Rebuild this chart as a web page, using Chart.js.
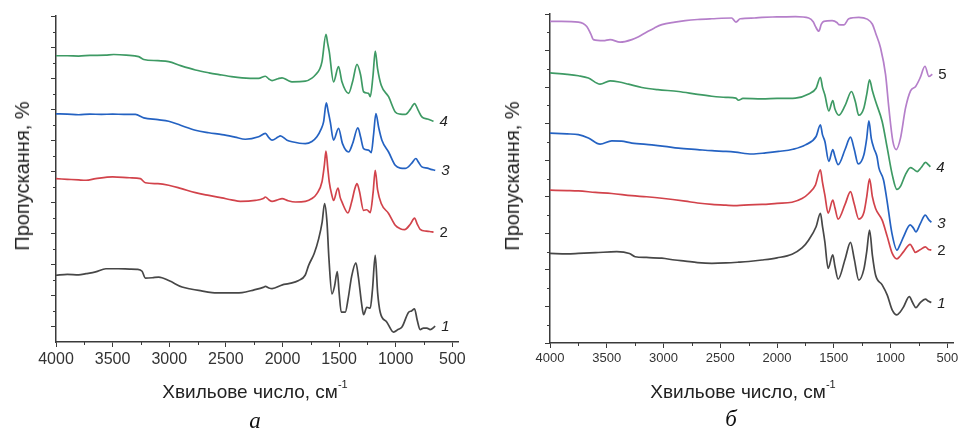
<!DOCTYPE html>
<html>
<head>
<meta charset="utf-8">
<script src="https://cdn.jsdelivr.net/npm/chart.js@4/dist/chart.umd.min.js"></script>
<style>
  html, body { margin:0; padding:0; background:#fff; }
  #wrap { position:relative; width:959px; height:430px; overflow:hidden; background:#fff; }
  canvas { position:absolute; top:0; }
  .t { position:absolute; white-space:nowrap; line-height:1; color:#222; font-family:"Liberation Sans", Arial, sans-serif; }
  .xt { font-size:19px; transform:translate(-50%,-50%); }
  .yt { font-size:20px; transform:translate(-50%,-50%) rotate(-90deg); }
  .xt sup { font-size:11px; position:relative; top:-3px; vertical-align:top; }
  .pl { font-family:"Liberation Serif", "Times New Roman", serif; font-style:italic; font-size:23px; transform:translate(-50%,-50%); color:#111; }
</style>
</head>
<body>
<div id="wrap">
  <canvas id="ca" width="480" height="430" style="left:0"></canvas>
  <canvas id="cb" width="479" height="430" style="left:480px"></canvas>
  <div class="t yt" style="left:22px;top:176px">Пропускання, %</div>
  <div class="t xt" style="left:255px;top:391px">Хвильове число, см<sup>-1</sup></div>
  <div class="t pl" style="left:255px;top:420px">а</div>
  <div class="t yt" style="left:512px;top:176px">Пропускання, %</div>
  <div class="t xt" style="left:743px;top:391px">Хвильове число, см<sup>-1</sup></div>
  <div class="t pl" style="left:731px;top:418px">б</div>
</div>
<script>
// ---------- DATA (wavenumber cm-1, transmittance in offset units) ----------
const X_TICKS = [4000, 3500, 3000, 2500, 2000, 1500, 1000, 500];
const X_MINOR = [3750, 3250, 2750, 2250, 1750, 1250, 750];
const A_Y_TICKS = [0,1,2,3,4,5,6,7,8,9,10];
const A_Y_MINOR = [-0.5,0.5,1.5,2.5,3.5,4.5,5.5,6.5,7.5,8.5,9.5];
const B_Y_TICKS = [0,1,2,3,4,5,6,7,8,9];
const B_Y_MINOR = [0.5,1.5,2.5,3.5,4.5,5.5,6.5,7.5,8.5];
const A_LABELS = ['1','2','3','4'];
const B_LABELS = ['1','2','3','4','5'];

// panel а
const a1 = [[4000,1.65],[3900,1.68],[3800,1.66],[3735,1.70],[3650,1.76],[3559,1.86],[3450,1.86],[3350,1.85],[3284,1.84],[3240,1.78],[3211,1.56],[3150,1.57],[3093,1.59],[3000,1.47],[2887,1.27],[2800,1.20],[2740,1.16],[2622,1.09],[2500,1.08],[2357,1.09],[2250,1.18],[2170,1.26],[2151,1.29],[2120,1.24],[2092,1.22],[2000,1.34],[1945,1.38],[1857,1.48],[1800,1.65],[1769,1.97],[1720,2.35],[1680,2.83],[1650,3.35],[1628,3.96],[1607,3.36],[1590,2.2],[1563,1.05],[1540,1.3],[1516,1.77],[1500,1.1],[1481,0.46],[1446,0.46],[1420,0.9],[1390,1.6],[1352,2.05],[1330,1.6],[1300,0.7],[1284,0.38],[1255,0.62],[1225,0.59],[1205,1.2],[1181,2.29],[1160,1.1],[1137,0.46],[1078,0.14],[1019,-0.18],[980,-0.1],[945,-0.02],[886,0.46],[860,0.5],[834,0.57],[810,0.2],[784,-0.10],[755,-0.05],[725,-0.05],[696,-0.10],[651,0.01]];
const a2 = [[4000,4.76],[3900,4.74],[3800,4.72],[3735,4.71],[3650,4.76],[3500,4.82],[3350,4.79],[3255,4.76],[3211,4.63],[3100,4.60],[3005,4.55],[2900,4.45],[2769,4.31],[2650,4.22],[2534,4.14],[2450,4.08],[2372,4.03],[2240,4.06],[2170,4.12],[2151,4.17],[2120,4.08],[2092,4.03],[2040,4.08],[2004,4.12],[1950,4.05],[1886,4.01],[1798,4.03],[1740,4.12],[1696,4.28],[1651,4.66],[1630,5.2],[1616,5.65],[1600,5.1],[1587,4.66],[1565,4.25],[1549,4.06],[1510,4.46],[1490,4.15],[1475,4.01],[1422,3.66],[1390,4.0],[1360,4.45],[1342,4.60],[1320,4.35],[1284,3.74],[1255,3.76],[1225,3.67],[1200,4.3],[1181,5.03],[1160,4.4],[1128,3.96],[1063,3.64],[1004,3.26],[960,3.15],[922,3.12],[870,3.3],[834,3.49],[810,3.3],[784,3.13],[730,3.07],[700,3.06],[666,3.04]];
const a3 = [[4000,6.85],[3900,6.84],[3800,6.82],[3700,6.84],[3600,6.83],[3500,6.84],[3400,6.83],[3299,6.83],[3225,6.72],[3100,6.66],[3005,6.61],[2900,6.48],[2769,6.32],[2650,6.24],[2534,6.18],[2420,6.10],[2328,6.03],[2211,6.11],[2151,6.22],[2120,6.08],[2092,6.0],[2040,6.1],[2019,6.14],[1960,6.0],[1916,5.95],[1798,5.89],[1740,5.96],[1696,6.11],[1660,6.35],[1637,6.59],[1613,7.20],[1595,6.9],[1578,6.59],[1549,6.0],[1505,6.38],[1470,5.89],[1416,5.62],[1380,5.9],[1334,6.40],[1310,6.1],[1284,5.73],[1240,5.68],[1216,5.60],[1195,6.2],[1175,6.86],[1150,6.4],[1122,6.0],[1063,5.62],[1004,5.19],[960,5.1],[916,5.09],[860,5.25],[822,5.41],[800,5.3],[769,5.14],[720,5.1],[690,5.06],[651,5.03]];
const a4 = [[4000,8.72],[3900,8.72],[3800,8.71],[3700,8.73],[3563,8.74],[3490,8.76],[3380,8.74],[3270,8.69],[3225,8.60],[3100,8.56],[3005,8.53],[2900,8.40],[2769,8.26],[2650,8.17],[2534,8.10],[2450,8.05],[2357,8.01],[2211,7.99],[2151,8.06],[2120,7.97],[2092,7.92],[2040,7.98],[2004,8.01],[1950,7.92],[1916,7.88],[1798,7.90],[1740,8.0],[1710,8.10],[1670,8.3],[1651,8.53],[1616,9.41],[1600,9.1],[1587,8.85],[1549,7.88],[1505,8.37],[1475,7.88],[1416,7.51],[1380,7.9],[1342,8.44],[1310,8.1],[1284,7.56],[1240,7.51],[1225,7.40],[1200,8.1],[1181,8.87],[1160,8.3],[1128,7.77],[1063,7.40],[1004,6.91],[960,6.84],[916,6.83],[870,7.0],[834,7.18],[800,6.95],[769,6.75],[720,6.68],[690,6.64],[666,6.61]];

// panel б
const b1 = [[4000,2.45],[3850,2.44],[3750,2.45],[3600,2.47],[3412,2.50],[3300,2.45],[3250,2.36],[3150,2.34],[3015,2.32],[2900,2.27],[2809,2.24],[2700,2.20],[2574,2.18],[2450,2.19],[2339,2.21],[2250,2.23],[2132,2.27],[2000,2.33],[1868,2.43],[1780,2.6],[1721,2.82],[1656,3.18],[1618,3.55],[1600,3.2],[1579,2.77],[1550,2.04],[1509,2.41],[1490,2.1],[1462,1.75],[1400,2.3],[1353,2.75],[1320,2.3],[1280,1.72],[1235,2.02],[1210,2.5],[1185,3.09],[1160,2.4],[1132,1.86],[1074,1.59],[1029,1.31],[985,0.90],[944,0.77],[915,0.85],[885,0.99],[835,1.27],[805,1.1],[777,0.97],[740,1.1],[694,1.20],[665,1.14],[641,1.11]];
const b2 = [[4000,4.18],[3850,4.17],[3750,4.16],[3600,4.12],[3456,4.09],[3279,4.03],[3150,4.0],[3015,3.96],[2809,3.88],[2700,3.83],[2574,3.79],[2450,3.77],[2353,3.76],[2250,3.78],[2132,3.79],[2000,3.82],[1868,3.85],[1780,3.95],[1721,4.09],[1662,4.32],[1618,4.74],[1600,4.4],[1579,4.05],[1550,3.55],[1509,3.91],[1490,3.7],[1462,3.39],[1400,3.8],[1353,4.14],[1320,3.8],[1280,3.39],[1235,3.57],[1210,4.0],[1185,4.49],[1160,4.0],[1132,3.68],[1074,3.36],[1029,2.91],[985,2.45],[944,2.30],[915,2.38],[885,2.50],[827,2.70],[805,2.6],[782,2.48],[740,2.55],[694,2.63],[665,2.56],[641,2.54]];
const b3 = [[4000,5.74],[3850,5.72],[3750,5.70],[3662,5.61],[3559,5.44],[3456,5.53],[3370,5.52],[3279,5.47],[3103,5.42],[2990,5.38],[2868,5.33],[2700,5.29],[2574,5.26],[2450,5.24],[2368,5.22],[2221,5.17],[2100,5.20],[1986,5.24],[1860,5.30],[1750,5.42],[1656,5.65],[1618,5.97],[1600,5.7],[1579,5.52],[1544,4.97],[1509,5.29],[1490,5.1],[1462,4.88],[1400,5.3],[1353,5.63],[1320,5.3],[1285,4.90],[1235,5.15],[1210,5.6],[1191,6.08],[1170,5.6],[1147,5.33],[1120,5.10],[1103,4.79],[1062,4.46],[1032,3.91],[988,3.0],[944,2.54],[915,2.7],[885,2.91],[827,3.23],[800,3.15],[777,3.04],[740,3.25],[694,3.50],[665,3.38],[641,3.30]];
const b4 = [[4000,7.39],[3850,7.35],[3750,7.31],[3662,7.25],[3559,7.08],[3471,7.17],[3390,7.14],[3309,7.08],[3191,6.99],[3050,6.93],[2868,6.88],[2700,6.80],[2574,6.75],[2450,6.72],[2362,6.70],[2340,6.64],[2300,6.69],[2132,6.68],[2000,6.69],[1838,6.70],[1721,6.81],[1656,6.97],[1618,7.27],[1600,7.0],[1579,6.79],[1544,6.35],[1509,6.63],[1490,6.4],[1456,6.23],[1400,6.5],[1344,6.88],[1310,6.6],[1280,6.23],[1235,6.43],[1210,6.8],[1185,7.20],[1160,6.9],[1132,6.61],[1074,6.06],[1029,5.33],[985,4.60],[944,4.20],[910,4.3],[870,4.6],[824,4.80],[795,4.75],[765,4.69],[730,4.8],[692,4.94],[665,4.87],[650,4.82]];
const b5 = [[4000,8.80],[3900,8.80],[3750,8.78],[3676,8.66],[3640,8.45],[3618,8.30],[3529,8.27],[3471,8.30],[3382,8.23],[3279,8.30],[3220,8.38],[3162,8.48],[3080,8.62],[3015,8.71],[2900,8.78],[2809,8.82],[2700,8.85],[2574,8.87],[2400,8.89],[2362,8.78],[2324,8.87],[2200,8.89],[2132,8.91],[2000,8.92],[1838,8.93],[1721,8.89],[1680,8.78],[1662,8.66],[1632,8.53],[1610,8.72],[1588,8.80],[1515,8.82],[1470,8.76],[1456,8.71],[1412,8.70],[1368,8.87],[1280,8.91],[1206,8.86],[1160,8.72],[1132,8.48],[1088,8.07],[1044,7.34],[1015,6.43],[980,5.52],[950,5.29],[912,5.61],[868,6.43],[824,6.90],[779,7.02],[740,7.25],[697,7.57],[662,7.29],[632,7.35]];

// ---------- STYLE ----------
const COL = { gray:'#474747', red:'#d2434b', blue:'#2462c2', green:'#3e9a64', purple:'#b57fca' };
const AXIS_COL = '#3a3a3a';

const minorTicks = {
  id:'minorTicks',
  afterDraw(chart, args, o) {
    const ctx = chart.ctx, xs = chart.scales.x, ys = chart.scales.y;
    ctx.save();
    ctx.strokeStyle = AXIS_COL; ctx.lineWidth = 1;
    ctx.beginPath();
    o.xMinor.forEach(v => { const p = Math.round(xs.getPixelForValue(v)) + 0.5; ctx.moveTo(p, xs.top); ctx.lineTo(p, xs.top + 3); });
    o.yMinor.forEach(v => { const p = Math.round(ys.getPixelForValue(v)) + 0.5; if (p > ys.bottom) return; ctx.moveTo(ys.right - 3, p); ctx.lineTo(ys.right, p); });
    ctx.stroke();
    ctx.restore();
  }
};
const endLabels = {
  id:'endLabels',
  afterDatasetsDraw(chart, args, o) {
    const ctx = chart.ctx;
    ctx.save();
    ctx.fillStyle = '#222';
    ctx.textBaseline = 'middle';
    chart.data.datasets.forEach((ds, i) => {
      const meta = chart.getDatasetMeta(i);
      const pt = meta.data[meta.data.length - 1];
      ctx.font = (o.italic[i] ? 'italic ' : '') + o.size + 'px "Liberation Sans", Arial, sans-serif';
      ctx.fillText(ds.label, pt.x + o.gap, pt.y + 1);
    });
    ctx.restore();
  }
};

function ds(label, pts, color) {
  return { label, data: pts.map(p => ({x:p[0], y:p[1]})), borderColor: color, borderWidth: 1.7,
           pointRadius: 0, fill: false, cubicInterpolationMode: 'monotone' };
}

function makeChart(id, datasets, yMin, yMax, yTicks, yMinor, pad, yW, xH, tickFont, labelOpts) {
  return new Chart(document.getElementById(id), {
    type: 'line',
    data: { datasets },
    options: {
      responsive: false, animation: false, devicePixelRatio: 1,
      layout: { padding: pad },
      plugins: { legend:{display:false}, tooltip:{enabled:false},
                 minorTicks: { xMinor: X_MINOR, yMinor: yMinor }, endLabels: labelOpts },
      scales: {
        x: {
          type: 'linear', reverse: true, min: 450, max: 4000,
          afterBuildTicks: s => { s.ticks = X_TICKS.map(v => ({ value: v })); },
          afterFit: s => { s.height = xH; s.paddingLeft = 0; s.paddingRight = 0; },
          ticks: { color:'#333', font:{ family:'"Liberation Sans", Arial, sans-serif', size: tickFont }, padding: 3, maxRotation: 0, autoSkip: false, callback: v => String(v) },
          grid: { drawOnChartArea: false, drawTicks: true, tickLength: 5, color: AXIS_COL, tickColor: AXIS_COL },
          border: { display: true, color: AXIS_COL, width: 1.5 }
        },
        y: {
          type: 'linear', min: yMin, max: yMax,
          afterBuildTicks: s => { s.ticks = yTicks.map(v => ({ value: v })); },
          afterFit: s => { s.width = yW; s.paddingTop = 0; s.paddingBottom = 0; },
          ticks: { display: false },
          grid: { drawOnChartArea: false, drawTicks: true, tickLength: 5, color: AXIS_COL, tickColor: AXIS_COL },
          border: { display: true, color: AXIS_COL, width: 1.5 }
        }
      }
    },
    plugins: [minorTicks, endLabels]
  });
}

makeChart('ca',
  [ds(A_LABELS[0], a1, COL.gray), ds(A_LABELS[1], a2, COL.red), ds(A_LABELS[2], a3, COL.blue), ds(A_LABELS[3], a4, COL.green)],
  -0.5, 10, A_Y_TICKS, A_Y_MINOR, {left:0, right:22, top:16, bottom:0}, 56, 88, 16,
  { italic:[true,false,true,true], size:15, gap:6 });

makeChart('cb',
  [ds(B_LABELS[0], b1, COL.gray), ds(B_LABELS[1], b2, COL.red), ds(B_LABELS[2], b3, COL.blue), ds(B_LABELS[3], b4, COL.green), ds(B_LABELS[4], b5, COL.purple)],
  0, 9, B_Y_TICKS, B_Y_MINOR, {left:0, right:6, top:14, bottom:0}, 70, 87, 13,
  { italic:[true,false,true,true,false], size:15, gap:6 });
</script>
</body>
</html>
